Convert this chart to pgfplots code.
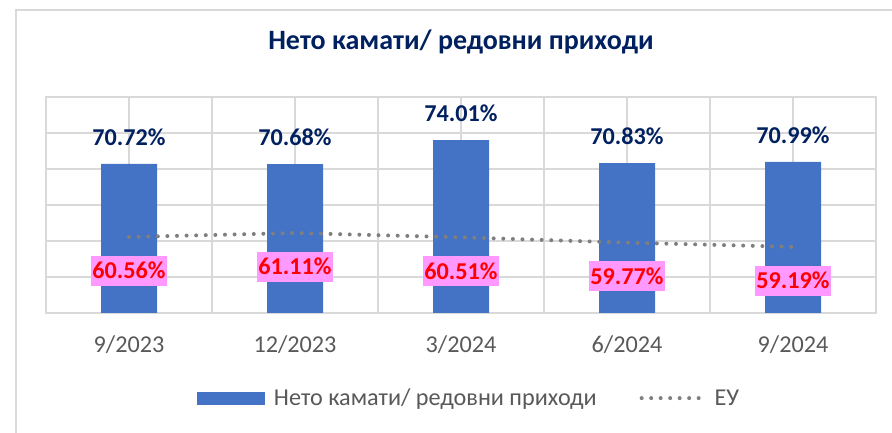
\documentclass[border=0pt]{standalone}
\usepackage{pgfplots}
\pgfplotsset{compat=1.18}
\usepackage{fontspec}
\setmainfont{Carlito}
\definecolor{barblue}{HTML}{4472C4}
\definecolor{navy}{HTML}{002060}
\definecolor{gridc}{HTML}{D9D9D9}
\definecolor{dotc}{HTML}{7F7F7F}
\definecolor{tickc}{HTML}{595959}
\definecolor{pinkbg}{HTML}{FF99FF}
\definecolor{redtxt}{HTML}{FF0000}
\newcommand{\fs}{\fontsize{24.2bp}{29bp}\selectfont}
\newcommand{\fst}{\fontsize{28bp}{33bp}\selectfont}
\begin{document}
\begin{tikzpicture}
\useasboundingbox (0,0) rectangle (892bp,433bp);
\draw[gridc, line width=1.5bp] (16bp,0) -- (16bp,423bp) -- (892bp,423bp);
\begin{axis}[
  at={(46bp,120bp)}, anchor=south west,
  scale only axis, width=830bp, height=216bp,
  xmin=-0.5, xmax=4.5, ymin=50, ymax=80,
  ytick={50,55,...,80}, yticklabels={},
  xtick={0,1,2,3,4},
  xticklabels={9/2023,12/2023,3/2024,6/2024,9/2024},
  minor xtick={-0.5,0.5,1.5,2.5,3.5,4.5},
  major tick length=0pt, minor tick length=0pt,
  xmajorgrids, xminorgrids, ymajorgrids,
  grid style={gridc, line width=1.2bp},
  minor grid style={gridc, line width=1.2bp},
  axis line style={gridc, line width=1.2bp},
  xticklabel style={font=\fs, text=tickc, anchor=center, yshift=-32bp},
  title={\textbf{Нето камати/ редовни приходи}},
  title style={font=\fst, text=navy, at={(0.5,1)}, anchor=base, yshift=42bp},
  legend columns=2,
  legend style={at={(0.1819,-0.394)}, anchor=west, draw=none, font=\fs, text=tickc,
    inner sep=0pt, outer sep=0pt,
    /tikz/every even column/.append style={column sep=43bp},
    /tikz/every odd column/.append style={column sep=9bp},
    nodes={inner sep=0pt}},
  /pgf/number format/assume math mode=true,
]
\addplot[ybar, bar width=56bp, fill=barblue, draw=none,
  nodes near coords={\pgfmathprintnumber[fixed,fixed zerofill,precision=2]{\pgfplotspointmeta}\%},
  every node near coord/.append style={font=\fs\bfseries, text=navy, anchor=base, yshift=18.5bp},
  legend image code/.code={\fill[barblue] (0bp,-6.5bp) rectangle (68bp,6.5bp);}
] coordinates {(0,70.72) (1,70.68) (2,74.01) (3,70.83) (4,70.99)};
\addlegendentry{Нето камати/ редовни приходи}
\addplot[dotc, line width=4bp, line cap=round, dash pattern=on 0pt off 9.6bp,
  nodes near coords={\pgfmathprintnumber[fixed,fixed zerofill,precision=2]{\pgfplotspointmeta}\%},
  every node near coord/.append style={font=\fs\bfseries, text=redtxt, fill=pinkbg, anchor=base, yshift=-41.7bp, inner xsep=1bp, inner ysep=0pt, text height=23bp, text depth=7bp},
  legend image code/.code={\draw[dotc, line width=4bp, line cap=round, dash pattern=on 0pt off 9.5bp] (0bp,0bp) -- (62bp,0bp);}
] coordinates {(0,60.56) (1,61.11) (2,60.51) (3,59.77) (4,59.19)};
\addlegendentry{ЕУ}
\end{axis}
\end{tikzpicture}
\end{document}
